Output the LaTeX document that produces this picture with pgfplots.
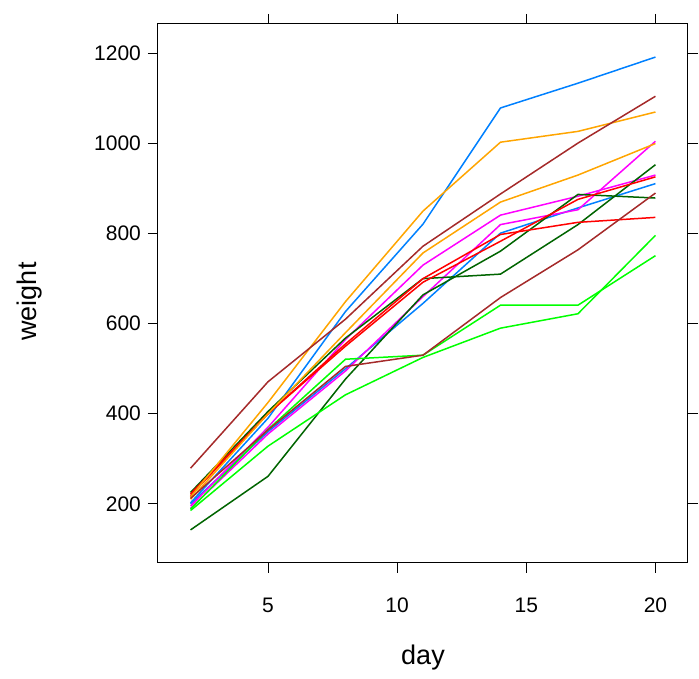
\documentclass[border=0pt]{standalone}
\usepackage{fontspec}
\setmainfont{Liberation Sans}
\usepackage{pgfplots}
\pgfplotsset{compat=1.18}

\definecolor{lblue}{HTML}{0080FF}
\definecolor{lmag}{HTML}{FF00FF}
\definecolor{ldgreen}{HTML}{006400}
\definecolor{lred}{HTML}{FF0000}
\definecolor{lorange}{HTML}{FFA500}
\definecolor{lgreen}{HTML}{00FF00}
\definecolor{lbrown}{HTML}{A52A2A}

\begin{document}
\begin{tikzpicture}
\begin{axis}[
  name=ax,
  scale only axis,
  width=265pt, height=269.5pt,
  xmin=0.74, xmax=21.26,
  ymin=68.5, ymax=1265.5,
  xtick={5,10,15,20},
  ytick={200,400,...,1200},
  tick pos=both,
  xticklabel pos=lower,
  yticklabel pos=left,
  tick align=outside,
  major tick length=5pt,
  tick style={black, line width=0.5pt},
  axis line style={line width=0.5pt},
  /pgf/number format/assume math mode=true,
  /pgf/number format/1000 sep={},
  ticklabel style={font=\fontsize{10.5}{12}\selectfont},
  xticklabel style={yshift=-9pt},
  xlabel={day}, ylabel={weight},
  label style={font=\fontsize{13.5}{15}\selectfont},
  xlabel style={at={(rel axis cs:0.5,0)}, anchor=center, yshift=-47.5pt},
  ylabel style={at={(rel axis cs:0,0.5)}, anchor=center, yshift=64pt, xshift=-4pt},
  every axis plot/.append style={line width=0.75pt, no markers},
]
\addplot[lblue] coordinates {(2,202)(5,390)(8,627)(11,821)(14,1079)(17,1134)(20,1192)};
\addplot[lblue] coordinates {(2,200)(5,360)(8,500)(11,645)(14,801)(17,857)(20,911)};
\addplot[lmag] coordinates {(2,190)(5,355)(8,495)(11,660)(14,820)(17,853)(20,1005)};
\addplot[lmag] coordinates {(2,195)(5,370)(8,565)(11,730)(14,841)(17,883)(20,930)};
\addplot[ldgreen] coordinates {(2,225)(5,405)(8,568)(11,700)(14,710)(17,820)(20,953)};
\addplot[ldgreen] coordinates {(2,142)(5,261)(8,477)(11,664)(14,761)(17,887)(20,879)};
\addplot[lred] coordinates {(2,222)(5,400)(8,550)(11,692)(14,783)(17,876)(20,926)};
\addplot[lred] coordinates {(2,218)(5,400)(8,555)(11,700)(14,798)(17,825)(20,836)};
\addplot[lorange] coordinates {(2,215)(5,425)(8,649)(11,850)(14,1003)(17,1027)(20,1070)};
\addplot[lorange] coordinates {(2,210)(5,400)(8,580)(11,757)(14,870)(17,930)(20,1000)};
\addplot[lgreen] coordinates {(2,188)(5,365)(8,521)(11,530)(14,641)(17,641)(20,751)};
\addplot[lgreen] coordinates {(2,185)(5,328)(8,442)(11,525)(14,590)(17,622)(20,796)};
\addplot[lbrown] coordinates {(2,279)(5,471)(8,610)(11,772)(14,888)(17,1001)(20,1105)};
\addplot[lbrown] coordinates {(2,212)(5,364)(8,505)(11,530)(14,658)(17,764)(20,890)};
\end{axis}
\pgfresetboundingbox
\useasboundingbox (ax.south west) ++(-79pt,-58pt) rectangle ([xshift=5.5pt,yshift=12pt]ax.north east);
\end{tikzpicture}
\end{document}
